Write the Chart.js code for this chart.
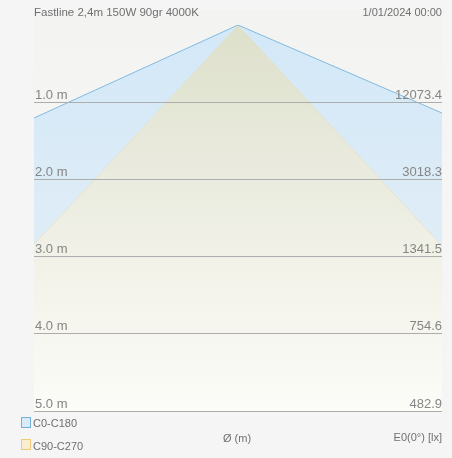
<!DOCTYPE html>
<html>
<head>
<meta charset="utf-8">
<script src="https://cdn.jsdelivr.net/npm/chart.js@4/dist/chart.umd.min.js"></script>
<style>
  body { margin:0; background:#f5f5f5; font-family:"Liberation Sans", Arial, sans-serif; }
  #wrap { position:relative; width:452px; height:458px; }
  .txt { position:absolute; font-size:11px; color:#707070; white-space:nowrap; line-height:12px; }
  .box { position:absolute; width:8px; height:9px; border:1px solid; }
</style>
</head>
<body>
<div id="wrap">
  <canvas id="beam"></canvas>
  <div class="txt" style="left:34px; top:6px; font-size:11.5px;">Fastline 2,4m 150W 90gr 4000K</div>
  <div class="txt" style="right:10px; top:6px;">1/01/2024 00:00</div>
  <div class="box" style="left:21px; top:417px; border-color:#6fb0dc; background:#d9ebf8;"></div>
  <div class="txt" style="left:33px; top:417px;">C0-C180</div>
  <div class="box" style="left:21px; top:439px; border-color:#f0cc7a; background:#fbeed0;"></div>
  <div class="txt" style="left:33px; top:440px;">C90-C270</div>
  <div class="txt" style="left:237px; top:432px; transform:translateX(-50%);">Ø (m)</div>
  <div class="txt" style="right:10px; top:431px;">E0(0°) [lx]</div>
</div>
<script>
// distances below the luminaire (m) and the matching labels
const distances  = [1, 2, 3, 4, 5];
const distLabels = ["1.0 m", "2.0 m", "3.0 m", "4.0 m", "5.0 m"];
const luxLabels  = ["12073.4", "3018.3", "1341.5", "754.6", "482.9"];

// beam outlines: half-width (m) vs depth (m), clipped at the plot edge
const c0x  = [-2.64, 0, 2.64];
const c0y  = [1.205, 0, 1.14];
const c90x = [-2.64, 0, 2.64];
const c90y = [2.84, 0, 2.86];

const pts = (xs, ys) => xs.map((x, i) => ({ x, y: ys[i] }));

function vGrad(ctx, stops) {
  const ca = ctx.chart.chartArea;
  if (!ca) return stops[0][1];
  const g = ctx.chart.ctx.createLinearGradient(0, ca.top, 0, ca.bottom);
  stops.forEach(([p, c]) => g.addColorStop(p, c));
  return g;
}

const areaBg = {
  id: "areaBg",
  beforeDraw(chart) {
    const { ctx, chartArea: a } = chart;
    const g = ctx.createLinearGradient(0, a.top, 0, a.bottom);
    g.addColorStop(0, "#f3f3f2");
    g.addColorStop(1, "#fbfbf7");
    ctx.save();
    ctx.fillStyle = g;
    ctx.fillRect(a.left, a.top - 15, a.right - a.left, a.bottom - a.top + 15);
    ctx.restore();
  }
};

const tickFont = { family: "Liberation Sans", size: 13 };

new Chart(document.getElementById("beam"), {
  type: "line",
  data: {
    datasets: [
      {
        label: "C0-C180",
        data: pts(c0x, c0y),
        borderColor: "#80bae0",
        borderWidth: 1,
        pointRadius: 0,
        tension: 0,
        fill: "+1",
        backgroundColor: ctx => vGrad(ctx, [[0, "#d3e8f8"], [0.6, "#e0edf6"], [1, "#eef3f5"]])
      },
      {
        label: "C90-C270",
        data: pts(c90x, c90y),
        borderColor: "#e6daae",
        borderWidth: 1,
        pointRadius: 0,
        tension: 0,
        fill: "start",
        backgroundColor: ctx => vGrad(ctx, [[0, "#dde0ca"], [0.35, "#e9eadd"], [0.7, "#f4f4ec"], [1, "#fcfcf8"]])
      }
    ]
  },
  options: {
    responsive: true,
    maintainAspectRatio: false,
    animation: false,
    layout: { padding: { left: 32, right: 10, top: 25, bottom: 47 } },
    plugins: { legend: { display: false }, tooltip: { enabled: false } },
    scales: {
      x: { type: "linear", min: -2.64, max: 2.64, display: false },
      y: {
        type: "linear", min: 0, max: 5, reverse: true, position: "left",
        afterBuildTicks: ax => { ax.ticks = distances.map(v => ({ value: v })); },
        border: { display: false },
        grid: { color: "#adadad", lineWidth: 1, drawTicks: false, z: 1 },
        ticks: {
          mirror: true, padding: 1, labelOffset: -7, color: "#858585", z: 1,
          font: tickFont,
          callback: v => distLabels[distances.indexOf(v)]
        }
      },
      lux: {
        type: "linear", min: 0, max: 5, reverse: true, position: "right",
        afterBuildTicks: ax => { ax.ticks = distances.map(v => ({ value: v })); },
        border: { display: false },
        grid: { display: false, drawTicks: false },
        ticks: {
          mirror: true, padding: 0, labelOffset: -7, color: "#858585", z: 1,
          font: tickFont,
          callback: v => luxLabels[distances.indexOf(v)]
        }
      }
    }
  },
  plugins: [areaBg]
});
</script>
</body>
</html>
